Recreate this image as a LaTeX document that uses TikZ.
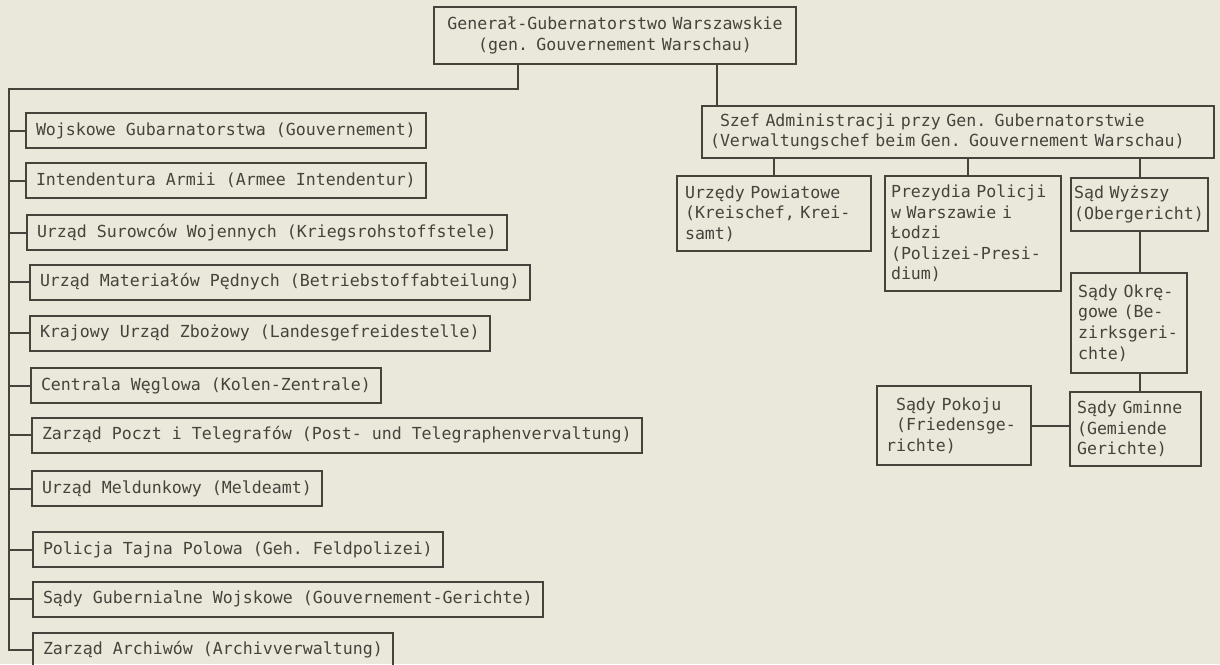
\documentclass[tikz,border=0pt]{standalone}
\usepackage{fontspec}
\setmonofont{DejaVu Sans Mono}
\usepackage{tikz}
\usetikzlibrary{positioning}
\definecolor{paper}{RGB}{234,232,219}
\definecolor{ink}{RGB}{70,66,60}
\newcommand{\orgfont}{\fontsize{8.3pt}{10.3pt}\selectfont\ttfamily}
\tikzset{
  % ramki urzedow
  box/.style={draw=ink,line width=1pt,text=ink,font=\orgfont,inner xsep=4pt,inner ysep=0pt,align=left},
  unit/.style={box,anchor=west,minimum height=17.5pt,inner xsep=5pt},
  % polaczenia
  link/.style={ink,line width=1pt}
}

\begin{document}
\begin{tikzpicture}[x=0.5pt,y=-0.5pt]
  \useasboundingbox (0,0) rectangle (1220,664);
  \fill[paper] (0,0) rectangle (1220,664);

  \node[box,align=center,text width=173pt,minimum height=28.5pt] (gg) at (615,35.5)
    {Generał-Gubernatorstwo Warszawskie\\(gen. Gouvernement Warschau)};

  \node[unit] (b1) at (25,130.5) {Wojskowe Gubarnatorstwa (Gouvernement)};
  \node[unit] (b2) at (25,180.5) {Intendentura Armii (Armee Intendentur)};
  \node[unit] (b3) at (26,232.5) {Urząd Surowców Wojennych (Kriegsrohstoffstele)};
  \node[unit] (b4) at (29,282) {Urząd Materiałów Pędnych (Betriebstoffabteilung)};
  \node[unit] (b5) at (29,333) {Krajowy Urząd Zbożowy (Landesgefreidestelle)};
  \node[unit] (b6) at (30,385.5) {Centrala Węglowa (Kolen-Zentrale)};
  \node[unit] (b7) at (31,435) {Zarząd Poczt i Telegrafów (Post- und Telegraphenvervaltung)};
  \node[unit] (b8) at (31,488.5) {Urząd Meldunkowy (Meldeamt)};
  \node[unit] (b9) at (32,549.5) {Policja Tajna Polowa (Geh. Feldpolizei)};
  \node[unit] (b10) at (32,599) {Sądy Gubernialne Wojskowe (Gouvernement-Gerichte)};
  \node[unit] (b11) at (32,650) {Zarząd Archiwów (Archivverwaltung)};

  \node[box,text width=248pt,minimum height=26pt] (szef) at (958,132)
    {\phantom{S}Szef Administracji przy Gen. Gubernatorstwie\\(Verwaltungschef beim Gen. Gouvernement Warschau)};
  \node[box,text width=89pt,minimum height=37.5pt] (urz) at (774,213.5)
    {Urzędy Powiatowe\\(Kreischef, Krei-\\samt)};
  \node[box,inner xsep=3pt,text width=82pt,minimum height=57.5pt] (prez) at (973,233.5)
    {Prezydia Policji\\w Warszawie i\\Łodzi\\(Polizei-Presi-\\dium)};
  \node[box,inner xsep=1.5pt,text width=65.5pt,minimum height=26.5pt] (wyz) at (1139.5,204.5)
    {Sąd Wyższy\\(Obergericht)};
  \node[box,inner xsep=3.5pt,text width=51pt,minimum height=50pt] (okr) at (1129,323)
    {Sądy Okrę-\\gowe (Be-\\zirksgeri-\\chte)};
  \node[box,inner xsep=3.5pt,text width=58.5pt,minimum height=37pt] (gmi) at (1135.5,429)
    {Sądy Gminne\\(Gemiende\\Gerichte)};
  \node[box,inner xsep=4.5pt,text width=68pt,minimum height=39.5pt] (pok) at (954,425.5)
    {\phantom{x}Sądy Pokoju\\\phantom{x}(Friedensge-\\richte)};

  \coordinate (lk) at (518,89);
  \coordinate (trunk) at (9,89);
  \coordinate (rk) at (717,89);

  \draw[link] (lk |- gg.south) -- (lk) -- (trunk) -- (trunk |- b11.west) -- (b11.west);
  \foreach \i in {1,...,10}
    \draw[link] (trunk |- b\i.west) -- (b\i.west);
  \draw[link] (rk |- gg.south) -- (rk |- szef.north);

  \draw[link] (szef.south -| urz) -- (urz.north);
  \draw[link] ([xshift=-2.5pt]szef.south -| prez) -- ([xshift=-2.5pt]prez.north);
  \draw[link] (szef.south -| wyz) -- (wyz.north);
  \draw[link] (wyz.south) -- (wyz.south |- okr.north);
  \draw[link] (wyz.south |- okr.south) -- (wyz.south |- gmi.north);
  \draw[link] (pok.east) -- (pok.east -| gmi.west);
\end{tikzpicture}
\end{document}
